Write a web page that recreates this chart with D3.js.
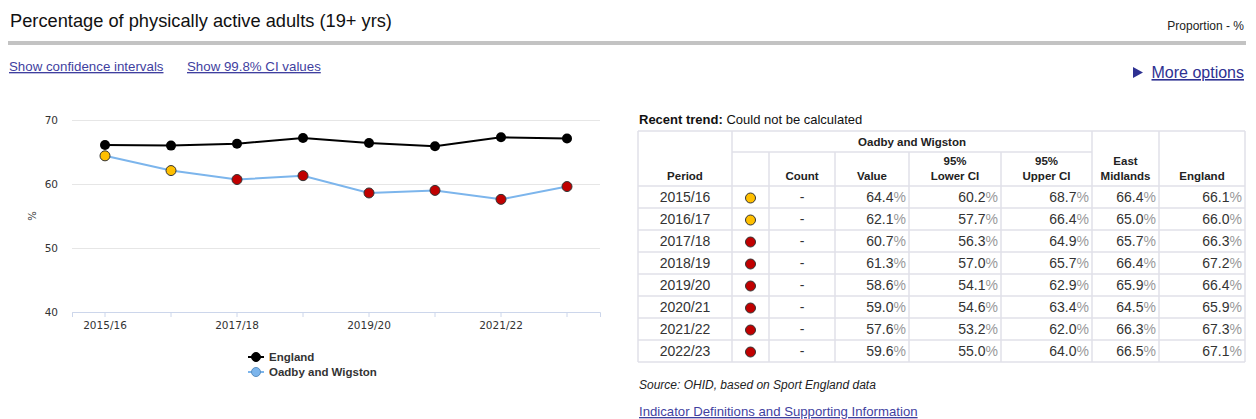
<!DOCTYPE html>
<html><head><meta charset="utf-8">
<script src="https://cdn.jsdelivr.net/npm/d3@7"></script>
<style>
body{margin:0;background:#fff}
svg{display:block}
text{font-family:"Liberation Sans",Arial,sans-serif}
.ax text{font-family:"DejaVu Sans",Verdana,sans-serif;font-size:10.5px;fill:#333}
.u{text-decoration:underline}
</style></head><body>
<svg id="c" width="1256" height="419"></svg>
<script>
const periods = ["2015/16","2016/17","2017/18","2018/19","2019/20","2020/21","2021/22","2022/23"];
const englandValues = [66.1,66.0,66.3,67.2,66.4,65.9,67.3,67.1];
const areaValues = [64.4,62.1,60.7,61.3,58.6,59.0,57.6,59.6];
const lowerCI = [60.2,57.7,56.3,57.0,54.1,54.6,53.2,55.0];
const upperCI = [68.7,66.4,64.9,65.7,62.9,63.4,62.0,64.0];
const eastMidlandsValues = [66.4,65.0,65.7,66.4,65.9,64.5,66.3,66.5];
const significance = ["similar","similar","worse","worse","worse","worse","worse","worse"];
const yTicks = [40,50,60,70];
const xTickLabels = ["2015/16","2017/18","2019/20","2021/22"];
const seriesNames = ["England","Oadby and Wigston"];

const sigColor = {similar:"#ffbf00", worse:"#c00000"};
const svg = d3.select("#c");

// Header
svg.append("text").attr("x",10).attr("y",27).style("font-size","18.25px").attr("fill","#111")
  .text("Percentage of physically active adults (19+ yrs)");
svg.append("text").attr("x",1244).attr("y",30).attr("text-anchor","end").style("font-size","12px").attr("fill","#222")
  .text("Proportion - %");
svg.append("rect").attr("x",8).attr("y",41).attr("width",1238).attr("height",4).attr("fill","#c3c3c3");
svg.append("text").attr("x",9).attr("y",71).attr("class","u").style("font-size","13.3px").attr("fill","#3f3f9f")
  .text("Show confidence intervals");
svg.append("text").attr("x",187).attr("y",71).attr("class","u").style("font-size","13.3px").attr("fill","#3f3f9f")
  .text("Show 99.8% CI values");
svg.append("path").attr("d","M1133,67 L1143,72.5 L1133,78 Z").attr("fill","#2e3192");
svg.append("text").attr("x",1244).attr("y",78).attr("text-anchor","end").attr("class","u")
  .style("font-size","16px").attr("fill","#2e3192").text("More options");

// Chart
const x = d3.scaleBand().domain(periods).range([72,600]);
const cx = p => x(p) + x.bandwidth()/2;
const y = d3.scaleLinear().domain([40,70]).range([312,120]);

const gy = svg.append("g").attr("class","ax").attr("transform","translate(72,0)")
  .call(d3.axisLeft(y).tickValues(yTicks).tickSize(-528).tickPadding(14).tickFormat(d3.format("d")));
gy.select(".domain").remove();
gy.selectAll(".tick line").attr("stroke","#e6e6e6");

const gx = svg.append("g").attr("class","ax").attr("transform","translate(0,312)")
  .call(d3.axisBottom(x).tickSizeOuter(0).tickSize(5).tickPadding(5)
    .tickFormat(d => xTickLabels.includes(d) ? d : ""));
gx.select(".domain").attr("stroke","#ccd6eb");
gx.selectAll(".tick line").attr("stroke","#ccd6eb");

svg.append("text").attr("transform","translate(36,216) rotate(-90)").attr("text-anchor","middle")
  .style("font-family","DejaVu Sans").style("font-size","10px").attr("fill","#333").text("%");

const line = d3.line().x((d,i)=>cx(periods[i])).y(d=>y(d));
svg.append("path").datum(englandValues).attr("d",line).attr("fill","none").attr("stroke","#000").attr("stroke-width",2);
svg.append("path").datum(areaValues).attr("d",line).attr("fill","none").attr("stroke","#7cb5ec").attr("stroke-width",2);
svg.append("g").selectAll("circle").data(englandValues).join("circle")
  .attr("cx",(d,i)=>cx(periods[i])).attr("cy",d=>y(d)).attr("r",5).attr("fill","#000");
svg.append("g").selectAll("circle").data(areaValues).join("circle")
  .attr("cx",(d,i)=>cx(periods[i])).attr("cy",d=>y(d)).attr("r",5)
  .attr("fill",(d,i)=>sigColor[significance[i]]).attr("stroke","#333").attr("stroke-width",1);

// Legend
const legColors = [["#000","#000"],["#7cb5ec","#5a8fc0"]];
seriesNames.forEach((n,i)=>{
  const ly = 357 + i*15;
  svg.append("line").attr("x1",248).attr("x2",264).attr("y1",ly).attr("y2",ly).attr("stroke",legColors[i][0]).attr("stroke-width",2);
  svg.append("circle").attr("cx",256).attr("cy",ly).attr("r",4.5).attr("fill",legColors[i][0]).attr("stroke",legColors[i][1]);
  svg.append("text").attr("x",269).attr("y",ly+4).style("font-size","11.5px").style("font-weight","bold").attr("fill","#333").text(n);
});

// Table
const t = svg.append("g");
const rt = t.append("text").attr("x",639).attr("y",124).style("font-size","13px").attr("fill","#111");
rt.append("tspan").style("font-weight","bold").text("Recent trend:");
rt.append("tspan").text(" Could not be calculated");

const cols = [638,732,769,835,909,1001,1092,1159,1245];
const tTop = 131, h1 = 152, hb = 186, rh = 22;
const tBottom = hb + rh*periods.length;
const bc = "#e1e1e8";
const ln = (x1,y1,x2,y2) => t.append("line").attr("x1",x1).attr("y1",y1).attr("x2",x2).attr("y2",y2).attr("stroke",bc).attr("stroke-width",1.5);
ln(cols[0],tTop,cols[8],tTop);
ln(cols[1],h1,cols[6],h1);
[0,1,6,7,8].forEach(i=>ln(cols[i],tTop,cols[i],tBottom));
[2,3,4,5].forEach(i=>ln(cols[i],h1,cols[i],tBottom));
for(let r=0;r<=periods.length;r++) ln(cols[0],hb+r*rh,cols[8],hb+r*rh);

const hd = (xm, yy, s) => t.append("text").attr("x",xm).attr("y",yy).attr("text-anchor","middle")
  .style("font-size","11.5px").style("font-weight","bold").attr("fill","#222").text(s);
const mid = i => (cols[i]+cols[i+1])/2;
hd((cols[1]+cols[6])/2, 146, "Oadby and Wigston");
hd(mid(0),180,"Period"); hd(mid(2),180,"Count"); hd(mid(3),180,"Value");
hd(mid(4),165,"95%"); hd(mid(4),180,"Lower CI");
hd(mid(5),165,"95%"); hd(mid(5),180,"Upper CI");
hd(mid(6),165,"East"); hd(mid(6),180,"Midlands");
hd(mid(7),180,"England");

const valCols = [[areaValues,3],[lowerCI,4],[upperCI,5],[eastMidlandsValues,6],[englandValues,7]];
periods.forEach((p,r)=>{
  const yc = hb + r*rh + rh/2;
  t.append("text").attr("x",mid(0)).attr("y",yc+5).attr("text-anchor","middle").style("font-size","14px").attr("fill","#333").text(p);
  t.append("circle").attr("cx",mid(1)).attr("cy",yc+1).attr("r",5).attr("fill",sigColor[significance[r]]).attr("stroke","#333");
  t.append("text").attr("x",mid(2)).attr("y",yc+5).attr("text-anchor","middle").style("font-size","14px").attr("fill","#333").text("-");
  valCols.forEach(([arr,ci])=>{
    const tx = t.append("text").attr("x",cols[ci+1]-3).attr("y",yc+5).attr("text-anchor","end").style("font-size","14px").attr("fill","#333");
    tx.append("tspan").text(arr[r].toFixed(1));
    tx.append("tspan").attr("fill","#999").text("%");
  });
});

t.append("text").attr("x",639).attr("y",389).style("font-size","12px").style("font-style","italic").attr("fill","#222")
  .text("Source: OHID, based on Sport England data");
t.append("text").attr("x",639).attr("y",416).attr("class","u").style("font-size","13.2px").attr("fill","#3f3f9f")
  .text("Indicator Definitions and Supporting Information");
</script></body></html>
